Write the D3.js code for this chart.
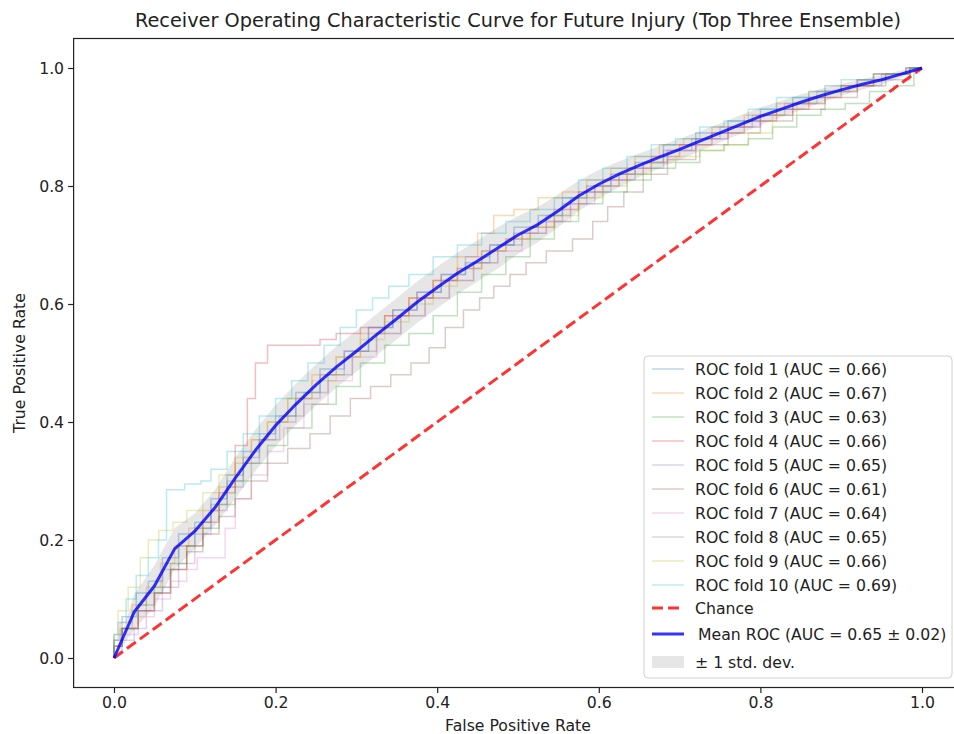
<!DOCTYPE html>
<html>
<head>
<meta charset="utf-8">
<script src="https://cdn.jsdelivr.net/npm/d3@7"></script>
<style>
  body { margin: 0; background: #fff; }
  svg text { font-family: "DejaVu Sans", sans-serif; fill: #222; }
</style>
</head>
<body>
<svg id="chart" width="954" height="734"></svg>
<script>
(function () {
  'use strict';

  // ---- data ----
  var titleText = "Receiver Operating Characteristic Curve for Future Injury (Top Three Ensemble)";
  var tickValues = [0, 0.2, 0.4, 0.6, 0.8, 1.0];
  var foldColors = ["#1f77b4", "#ff7f0e", "#2ca02c", "#d62728", "#9467bd",
                    "#8c564b", "#e377c2", "#7f7f7f", "#bcbd22", "#17becf"];
  var foldAuc = [0.66, 0.67, 0.63, 0.66, 0.65, 0.61, 0.64, 0.65, 0.66, 0.69];

  var fold1 = [[0,0],[0,.04],[.02,.07],[.035,.11],[.05,.13],[.07,.17],[.09,.21],[.11,.23],[.13,.27],[.15,.31],[.17,.35],[.19,.38],[.21,.41],[.24,.45],[.27,.49],[.3,.52],[.33,.56],[.36,.59],[.39,.62],[.42,.65],[.45,.67],[.48,.70],[.51,.73],[.54,.75],[.57,.78],[.6,.80],[.63,.82],[.66,.84],[.7,.87],[.74,.89],[.78,.91],[.82,.93],[.86,.95],[.9,.97],[.94,.98],[.97,.99],[1,1]];
  var fold2 = [[0,0],[0,.03],[.015,.06],[.03,.09],[.05,.12],[.065,.16],[.085,.19],[.1,.22],[.12,.25],[.14,.29],[.16,.33],[.18,.37],[.2,.40],[.23,.44],[.26,.48],[.29,.51],[.32,.55],[.35,.58],[.38,.61],[.41,.64],[.44,.68],[.46,.72],[.48,.75],[.51,.76],[.54,.78],[.57,.79],[.6,.81],[.63,.83],[.66,.85],[.69,.87],[.72,.88],[.76,.90],[.8,.92],[.84,.94],[.88,.96],[.92,.97],[.96,.99],[1,1]];
  var fold3 = [[0,0],[0,.02],[.02,.05],[.04,.09],[.06,.12],[.08,.16],[.1,.19],[.12,.22],[.14,.26],[.16,.30],[.18,.33],[.2,.36],[.23,.39],[.26,.43],[.29,.46],[.32,.50],[.35,.53],[.38,.55],[.41,.58],[.44,.62],[.47,.65],[.5,.68],[.53,.71],[.56,.74],[.59,.77],[.62,.79],[.65,.81],[.68,.83],[.71,.84],[.74,.86],[.77,.87],[.8,.88],[.83,.90],[.86,.92],[.89,.93],[.92,.94],[.95,.96],[.98,.97],[1,1]];
  var fold4 = [[0,0],[0,.02],[.02,.05],[.04,.08],[.06,.11],[.08,.15],[.1,.19],[.12,.23],[.14,.28],[.16,.36],[.17,.44],[.18,.50],[.2,.53],[.25,.53],[.26,.54],[.29,.55],[.32,.56],[.35,.58],[.38,.61],[.41,.64],[.44,.66],[.47,.69],[.5,.71],[.53,.73],[.56,.76],[.59,.79],[.62,.81],[.65,.83],[.68,.85],[.72,.87],[.76,.89],[.8,.91],[.84,.93],[.88,.95],[.92,.97],[.96,.99],[1,1]];
  var fold5 = [[0,0],[0,.01],[.02,.03],[.03,.05],[.05,.08],[.07,.12],[.09,.16],[.11,.21],[.13,.25],[.15,.29],[.17,.33],[.19,.37],[.21,.40],[.24,.44],[.27,.48],[.3,.52],[.33,.56],[.36,.59],[.39,.62],[.42,.65],[.45,.68],[.48,.70],[.51,.72],[.54,.74],[.57,.77],[.6,.79],[.63,.81],[.66,.83],[.7,.86],[.74,.88],[.78,.90],[.82,.92],[.86,.94],[.9,.96],[.94,.98],[.97,.99],[1,1]];
  var fold6 = [[0,0],[0,.02],[.02,.05],[.04,.08],[.06,.11],[.08,.15],[.1,.18],[.12,.21],[.14,.24],[.16,.27],[.18,.30],[.2,.33],[.23,.355],[.255,.38],[.28,.41],[.305,.44],[.33,.46],[.355,.48],[.38,.50],[.4,.526],[.42,.56],[.445,.59],[.46,.61],[.48,.63],[.5,.65],[.52,.67],[.55,.69],[.585,.71],[.6,.74],[.622,.765],[.64,.79],[.67,.82],[.7,.845],[.74,.87],[.78,.89],[.82,.91],[.86,.93],[.9,.95],[.94,.97],[.97,.98],[1,1]];
  var fold7 = [[0,0],[0,.02],[.02,.04],[.04,.07],[.06,.10],[.08,.13],[.1,.15],[.106,.17],[.135,.17],[.14,.22],[.16,.27],[.18,.31],[.2,.35],[.22,.39],[.25,.43],[.28,.47],[.31,.51],[.34,.55],[.37,.58],[.4,.61],[.43,.64],[.46,.67],[.49,.69],[.52,.72],[.55,.74],[.58,.77],[.61,.80],[.64,.82],[.67,.84],[.7,.86],[.74,.88],[.78,.90],[.82,.92],[.86,.94],[.9,.96],[.94,.98],[.97,.99],[1,1]];
  var fold8 = [[0,0],[0,.03],[.015,.05],[.03,.08],[.05,.11],[.07,.15],[.09,.19],[.11,.22],[.13,.26],[.15,.30],[.17,.34],[.19,.37],[.22,.41],[.25,.45],[.28,.48],[.31,.52],[.34,.55],[.37,.58],[.4,.61],[.43,.64],[.46,.67],[.49,.70],[.52,.72],[.55,.75],[.58,.78],[.61,.80],[.64,.82],[.67,.84],[.7,.86],[.73,.88],[.77,.90],[.81,.92],[.85,.94],[.89,.96],[.93,.97],[.97,.99],[1,1]];
  var fold9 = [[0,0],[0,.04],[.01,.08],[.025,.12],[.04,.17],[.045,.20],[.066,.216],[.08,.23],[.1,.25],[.12,.28],[.14,.31],[.16,.34],[.18,.37],[.2,.40],[.23,.44],[.26,.47],[.29,.51],[.32,.54],[.35,.57],[.38,.60],[.41,.63],[.44,.66],[.47,.69],[.5,.71],[.53,.73],[.56,.75],[.59,.78],[.62,.80],[.65,.82],[.68,.84],[.71,.85],[.74,.86],[.77,.87],[.8,.89],[.83,.92],[.86,.94],[.9,.96],[.94,.98],[.97,.99],[1,1]];
  var fold10 = [[0,0],[0,.03],[.01,.06],[.02,.10],[.035,.14],[.05,.17],[.06,.2],[.07,.285],[.105,.295],[.11,.30],[.13,.32],[.15,.35],[.17,.38],[.19,.41],[.21,.44],[.23,.47],[.25,.50],[.27,.53],[.29,.56],[.31,.59],[.33,.61],[.35,.63],[.38,.65],[.41,.68],[.44,.70],[.47,.72],[.5,.74],[.53,.76],[.56,.78],[.59,.81],[.62,.83],[.65,.85],[.68,.87],[.71,.88],[.74,.90],[.77,.91],[.8,.93],[.84,.95],[.88,.96],[.92,.98],[.96,.99],[1,1]];
  var folds = [fold1, fold2, fold3, fold4, fold5, fold6, fold7, fold8, fold9, fold10];

  var meanFpr = [0,.025,.05,.075,.1,.125,.15,.175,.2,.225,.25,.275,.3,.325,.35,.375,.4,.425,.45,.475,.5,
                 .525,.55,.575,.6,.625,.65,.675,.7,.725,.75,.775,.8,.825,.85,.875,.9,.925,.95,.975,1];
  var meanTpr = [0,.078,.122,.185,.215,.255,.305,.352,.394,.43,.463,.493,.52,.548,.575,.603,.628,.652,.673,.695,.717,
                 .735,.758,.783,.803,.82,.835,.849,.862,.876,.89,.904,.918,.93,.942,.953,.963,.972,.98,.99,1];
  var stdTpr  = [0,.03,.035,.035,.03,.03,.035,.035,.035,.035,.035,.035,.035,.035,.035,.035,.035,.035,.035,.035,.032,
                 .03,.028,.026,.024,.022,.02,.019,.018,.017,.016,.016,.015,.014,.013,.012,.01,.009,.008,.006,0];
  var meanAuc = 0.65, stdAuc = 0.02;

  // ---- layout ----
  var svg = d3.select("#chart");
  var margin = { top: 38.5, left: 73.6 };
  var innerWidth = 888.8, innerHeight = 649;

  var xScale = d3.scaleLinear().domain([-0.05, 1.05]).range([margin.left, margin.left + innerWidth]);
  var yScale = d3.scaleLinear().domain([-0.05, 1.05]).range([margin.top + innerHeight, margin.top]);

  // roc folds drawn as staircases
  var stepLine = d3.line()
    .x(function (d) { return xScale(d[0]); })
    .y(function (d) { return yScale(d[1]); })
    .curve(d3.curveStep);

  var meanLine = d3.line()
    .x(function (d, i) { return xScale(meanFpr[i]); })
    .y(function (d) { return yScale(d); });

  var band = d3.area()
    .x(function (d, i) { return xScale(meanFpr[i]); })
    .y0(function (d, i) { return yScale(Math.max(d - stdTpr[i], 0)); })
    .y1(function (d, i) { return yScale(Math.min(d + stdTpr[i], 1)); });

  // std band sits under the lines, like matplotlib's zorder
  svg.append("path")
    .datum(meanTpr)
    .attr("d", band)
    .attr("fill", "#808080")
    .attr("fill-opacity", 0.2);

  svg.selectAll("path.fold")
    .data(folds)
    .enter().append("path")
    .attr("class", "fold")
    .attr("d", stepLine)
    .attr("fill", "none")
    .attr("stroke", function (d, i) { return foldColors[i]; })
    .attr("stroke-opacity", 0.3)
    .attr("stroke-width", 1.5);

  svg.append("path")
    .datum([[0, 0], [1, 1]])
    .attr("d", d3.line().x(function (d) { return xScale(d[0]); }).y(function (d) { return yScale(d[1]); }))
    .attr("fill", "none")
    .attr("stroke", "#ff0000")
    .attr("stroke-opacity", 0.8)
    .attr("stroke-width", 3)
    .attr("stroke-dasharray", "11,5");

  svg.append("path")
    .datum(meanTpr)
    .attr("d", meanLine)
    .attr("fill", "none")
    .attr("stroke", "#0000ff")
    .attr("stroke-opacity", 0.8)
    .attr("stroke-width", 3)
    .attr("stroke-linejoin", "round");

  // ---- axes ----
  var xAxis = d3.axisBottom(xScale).tickValues(tickValues).tickFormat(d3.format(".1f"))
    .tickSize(5.5).tickPadding(4);
  var yAxis = d3.axisLeft(yScale).tickValues(tickValues).tickFormat(d3.format(".1f"))
    .tickSize(5.5).tickPadding(4);

  var xAxisG = svg.append("g")
    .attr("transform", "translate(0," + (margin.top + innerHeight) + ")")
    .call(xAxis);
  var yAxisG = svg.append("g")
    .attr("transform", "translate(" + margin.left + ",0)")
    .call(yAxis);

  [xAxisG, yAxisG].forEach(function (g) {
    g.select(".domain").remove();
    g.selectAll(".tick line").attr("stroke", "#222").attr("stroke-width", 1.2);
    g.selectAll(".tick text").attr("fill", "#222").style("font-size", "15.7px")
      .style("font-family", "DejaVu Sans");
  });

  svg.append("rect")
    .attr("x", margin.left)
    .attr("y", margin.top)
    .attr("width", innerWidth)
    .attr("height", innerHeight)
    .attr("fill", "none")
    .attr("stroke", "#222")
    .attr("stroke-width", 1.2);

  svg.append("text")
    .attr("x", margin.left + innerWidth / 2)
    .attr("y", 27)
    .attr("text-anchor", "middle")
    .style("font-size", "19.3px")
    .text(titleText);

  svg.append("text")
    .attr("x", margin.left + innerWidth / 2)
    .attr("y", 731)
    .attr("text-anchor", "middle")
    .style("font-size", "15.7px")
    .text("False Positive Rate");

  svg.append("text")
    .attr("transform", "translate(25," + (margin.top + innerHeight / 2) + ") rotate(-90)")
    .attr("text-anchor", "middle")
    .style("font-size", "15.7px")
    .text("True Positive Rate");

  // ---- legend ----
  var legend = svg.append("g").attr("transform", "translate(644,356)");
  legend.append("rect")
    .attr("width", 308)
    .attr("height", 322)
    .attr("rx", 4)
    .attr("fill", "#fff")
    .attr("fill-opacity", 0.8)
    .attr("stroke", "#d0d0d0");

  var rows = foldAuc.map(function (a, i) {
    return { label: "ROC fold " + (i + 1) + " (AUC = " + a.toFixed(2) + ")", kind: "fold", color: foldColors[i] };
  });
  rows.push({ label: "Chance", kind: "chance" });
  rows.push({ label: "Mean ROC (AUC = " + meanAuc.toFixed(2) + " \u00b1 " + stdAuc.toFixed(2) + ")", kind: "mean" });
  rows.push({ label: "\u00b1 1 std. dev.", kind: "band" });

  var rowY = function (i) {
    if (i < 10) return 13 + i * 24;
    return [252, 278, 306][i - 10];
  };

  var row = legend.selectAll("g.row")
    .data(rows)
    .enter().append("g")
    .attr("class", "row")
    .attr("transform", function (d, i) { return "translate(0," + rowY(i) + ")"; });

  row.filter(function (d) { return d.kind !== "band"; })
    .append("line")
    .attr("x1", 8).attr("x2", 40)
    .attr("stroke", function (d) {
      return d.kind === "fold" ? d.color : d.kind === "chance" ? "#ff0000" : "#0000ff";
    })
    .attr("stroke-opacity", function (d) { return d.kind === "fold" ? 0.3 : 0.8; })
    .attr("stroke-width", function (d) { return d.kind === "fold" ? 1.5 : 3; })
    .attr("stroke-dasharray", function (d) { return d.kind === "chance" ? "11,5" : null; });

  row.filter(function (d) { return d.kind === "band"; })
    .append("rect")
    .attr("x", 8).attr("y", -6)
    .attr("width", 32).attr("height", 12)
    .attr("fill", "#808080")
    .attr("fill-opacity", 0.2);

  row.append("text")
    .attr("x", function (d) { return d.kind === "mean" ? 54 : 51; })
    .attr("dy", "0.35em")
    .style("font-size", "15.7px")
    .text(function (d) { return d.label; });

}());
</script>
</body>
</html>
